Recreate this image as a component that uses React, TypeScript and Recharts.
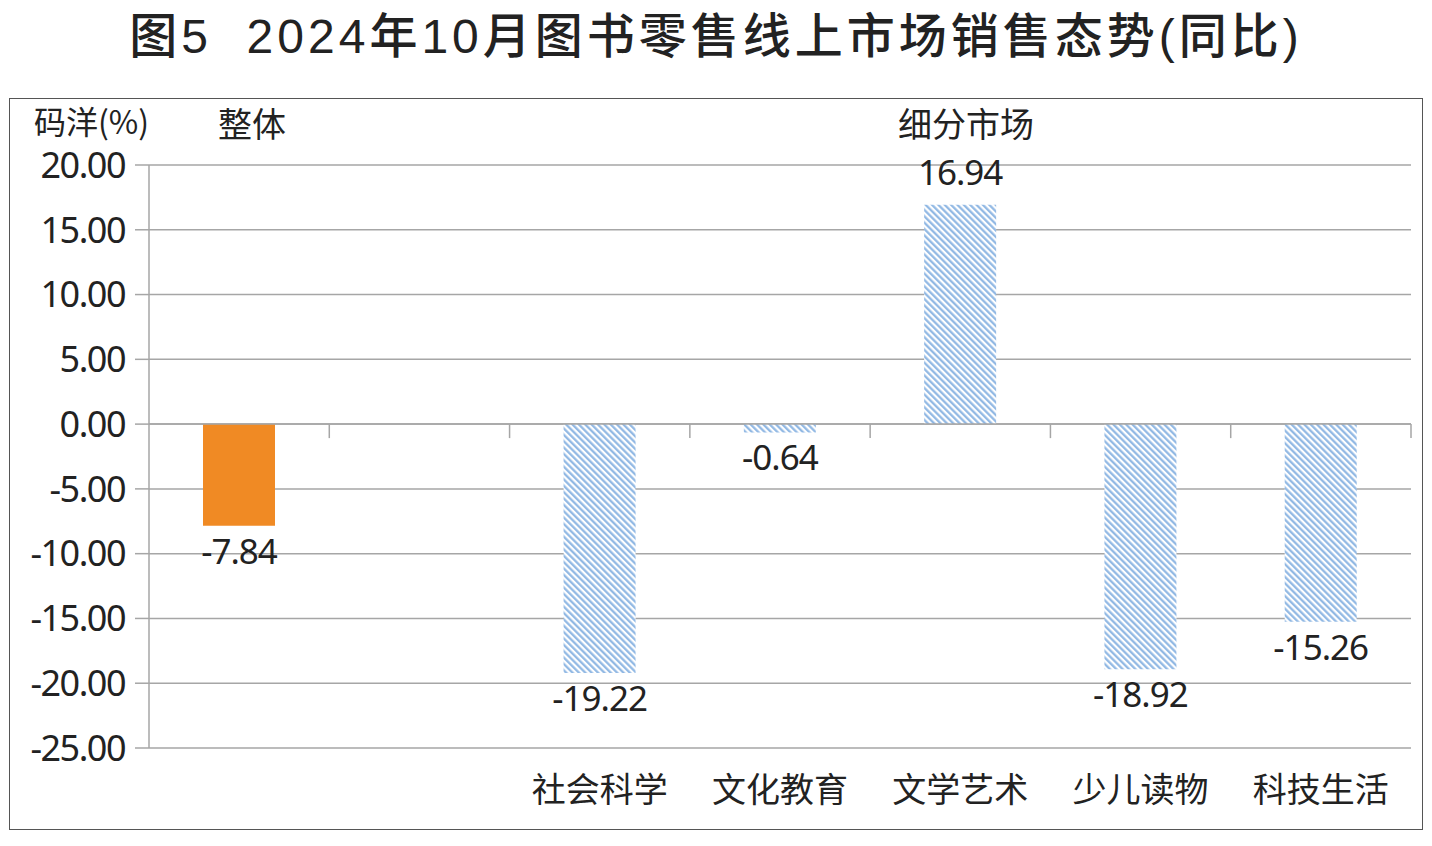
import { BarChart, Bar, XAxis, YAxis, CartesianGrid, ReferenceLine, Cell, LabelList } from 'recharts';

const categories = ['整体', ' ', '社会科学', '文化教育', '文学艺术', '少儿读物', '科技生活'];
const yoyValues = [-7.84, null, -19.22, -0.64, 16.94, -18.92, -15.26];
const yTicks = [20, 15, 10, 5, 0, -5, -10, -15, -20, -25];

const data = categories.map((name, i) => ({ name, value: yoyValues[i] }));

const W = 1432;
const H = 846;
const X_AXIS_H = 30;
const M = { top: 165, right: 21, bottom: 98 - X_AXIS_H, left: 0 };
const Y_AXIS_W = 149;
const plotW = W - M.right - M.left - Y_AXIS_W;
const plotH = H - M.top - M.bottom - X_AXIS_H;
const zeroY = M.top + (20 / 45) * plotH;
const band = plotW / categories.length;

const NUM_FONT = '"Noto Sans", "DejaVu Sans", sans-serif';
const CJK_FONT = '"Noto Sans CJK SC", "Noto Sans", sans-serif';
const TITLE_FONT = '"Liberation Sans", "Noto Sans CJK SC", sans-serif';
const GRID = '#a6a6a6';

const CategoryTick = ({ x, y, payload }: any) => {
  const name = payload.value;
  const showText = name !== '整体' && name.trim() !== '';
  return (
    <g>
      <line x1={x + band / 2} x2={x + band / 2} y1={zeroY} y2={zeroY + 14} stroke={GRID} strokeWidth={1.5} />
      {showText && (
        <text x={x} y={y + 46} textAnchor="middle" fontSize={34} fill="#222" fontFamily={CJK_FONT}>
          {name}
        </text>
      )}
    </g>
  );
};

const ValueLabel = ({ x, y, width, height, value }: any) => {
  if (value == null) return null;
  const top = Math.min(y, y + height);
  const bottom = Math.max(y, y + height);
  const cx = x + width / 2;
  const ty = value < 0 ? bottom + 38 : top - 20;
  return (
    <text x={cx} y={ty} textAnchor="middle" fontSize={35} fill="#222" fontFamily={NUM_FONT} letterSpacing={-1}>
      {value.toFixed(2)}
    </text>
  );
};

export default function App() {
  return (
    <div style={{ position: 'absolute', left: 0, top: 0, width: W, height: H, background: '#fff', overflow: 'hidden' }}>
      <svg width={0} height={0} style={{ position: 'absolute' }}>
        <defs>
          <pattern id="hatch" patternUnits="userSpaceOnUse" width={4.5} height={4.5} patternTransform="rotate(-45)">
            <rect width={4.5} height={4.5} fill="#ffffff" />
            <line x1={1.2} y1={0} x2={1.2} y2={4.5} stroke="#8db6e3" strokeWidth={2.2} />
          </pattern>
        </defs>
      </svg>
      <div
        style={{
          position: 'absolute',
          left: 0,
          top: 6,
          width: W,
          textAlign: 'center',
          fontFamily: TITLE_FONT,
          fontSize: 48,
          fontWeight: 500,
          letterSpacing: 4,
          color: '#222',
          lineHeight: '62px',
        }}
      >
        图5&nbsp;&nbsp;2024年10月图书零售线上市场销售态势(同比)
      </div>
      <div
        style={{
          position: 'absolute',
          left: 9,
          top: 98,
          width: 1412,
          height: 730,
          border: '1.5px solid #555',
        }}
      />
      <div style={{ position: 'absolute', left: 34, top: 97, fontFamily: CJK_FONT, fontSize: 32, color: '#222' }}>码洋(%)</div>
      <div style={{ position: 'absolute', left: 218, top: 98, fontFamily: CJK_FONT, fontSize: 34, color: '#222' }}>整体</div>
      <div style={{ position: 'absolute', left: 898, top: 98, fontFamily: CJK_FONT, fontSize: 34, color: '#222' }}>细分市场</div>
      <div style={{ position: 'absolute', left: 0, top: 0 }}>
        <BarChart width={W} height={H} data={data} margin={M}>
          <CartesianGrid vertical={false} stroke={GRID} strokeWidth={1.5} />
          <XAxis
            dataKey="name"
            height={X_AXIS_H}
            axisLine={false}
            tickLine={false}
            interval={0}
            tick={<CategoryTick />}
          />
          <YAxis
            width={Y_AXIS_W}
            domain={[-25, 20]}
            ticks={yTicks}
            interval={0}
            tickFormatter={(v: number) => v.toFixed(2)}
            axisLine={{ stroke: GRID, strokeWidth: 1.5 }}
            tickLine={{ stroke: GRID, strokeWidth: 1.5 }}
            tickSize={14}
            tickMargin={10}
            tick={{ fontSize: 36, fill: '#222', fontFamily: NUM_FONT, letterSpacing: -1.5 }}
          />
          <ReferenceLine y={0} stroke={GRID} strokeWidth={1.5} />
          <Bar dataKey="value" barSize={72} isAnimationActive={false}>
            {data.map((entry, index) => (
              <Cell key={`cell-${index}`} fill={index === 0 ? '#f08a24' : 'url(#hatch)'} />
            ))}
            <LabelList dataKey="value" content={<ValueLabel />} />
          </Bar>
        </BarChart>
      </div>
    </div>
  );
}
